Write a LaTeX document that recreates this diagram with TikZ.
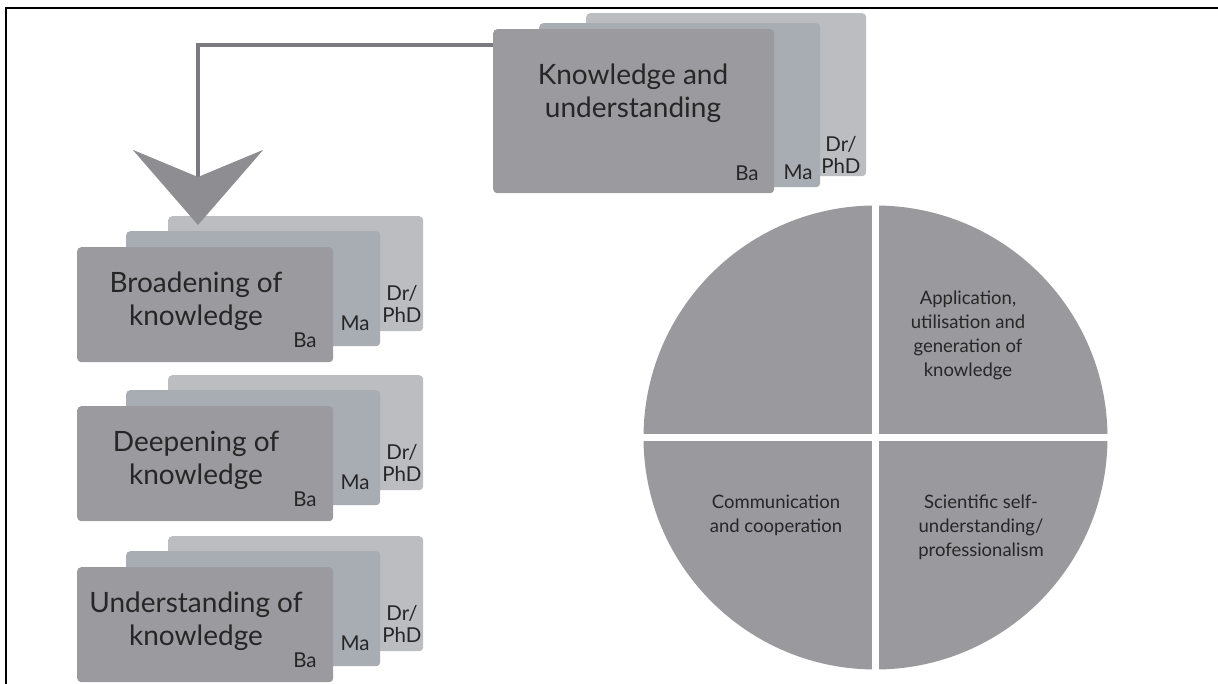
\documentclass[tikz,border=0pt]{standalone}
\usepackage{fontspec}
\setmainfont{Lato}
\usetikzlibrary{arrows.meta}
\definecolor{baC}{HTML}{9B9B9F}
\definecolor{maC}{HTML}{A8ACB3}
\definecolor{drC}{HTML}{BCBDC0}
\definecolor{txtC}{HTML}{262626}
\definecolor{lineC}{HTML}{7A7A80}
\definecolor{headC}{HTML}{8E8E92}
\definecolor{pieC}{HTML}{9A9A9E}
\tikzset{
  card/.style={rounded corners=4pt, inner sep=0pt, anchor=north west},
  bacard/.style={card, fill=baC},
  macard/.style={card, fill=maC},
  drcard/.style={card, fill=drC},
  lvl/.style={text=txtC, font=\fontsize{20.5}{22}\selectfont, align=center, inner sep=0pt},
  maintxt/.style={text=txtC, font=\fontsize{28}{33}\selectfont, align=center, inner sep=0pt},
  toptxt/.style={text=txtC, font=\fontsize{28}{33}\selectfont, align=center, inner sep=0pt},
  pietxt/.style={text=txtC, font=\fontsize{18.5}{24}\selectfont, align=center, inner sep=0pt},
  conn/.style={draw=lineC, line width=4.5pt, -{Stealth[length=75pt, width=130pt, inset=27pt, color=headC]}},
  frameline/.style={draw=black, line width=2.5pt},
}
\newcommand{\lstack}[3]{%
  \node[drcard, minimum width=255pt, minimum height=115pt] (#1Dr) at (168,{#2-31}) {};
  \node[macard, minimum width=254pt, minimum height=115pt] (#1Ma) at (126,{#2-16}) {};
  \node[bacard, minimum width=256pt, minimum height=115pt] (#1Ba) at (77,#2) {};
  \node[maintxt] (#1Txt) at (196,{#2+54}) {#3};
  \node[lvl] (#1BaL) at (305,{#2+93}) {Ba};
  \node[lvl] (#1MaL) at (355,{#2+76}) {Ma};
  \node[lvl] (#1DrL) at (402,{#2+57}) {Dr/\\PhD};
}
\begin{document}
\begin{tikzpicture}[x=1pt, y=-1pt]
\useasboundingbox (0,0) rectangle (1218,684);
\fill[white] (0,0) rectangle (1218,684);
\draw[frameline] (6,684) -- (6,8) -- (1218,8);
% top stack
\node[drcard, minimum width=280pt, minimum height=163pt] (kDr) at (586,13) {};
\node[macard, minimum width=281pt, minimum height=164pt] (kMa) at (539,23) {};
\node[bacard, minimum width=281pt, minimum height=164pt] (kBa) at (493,29) {};
\node[toptxt] (kTxt) at (633,93) {Knowledge and\\understanding};
\node[lvl] (kBaL) at (747,173) {Ba};
\node[lvl] (kMaL) at (798,172) {Ma};
\node[lvl] (kDrL) at (841,155) {Dr/\\PhD};
% left stacks
\lstack{b}{247}{Broadening of\\knowledge}
\lstack{d}{406}{Deepening of\\knowledge}
\lstack{u}{567}{Understanding of\\knowledge}
% connector
\coordinate (tip) at (198,225);
\draw[conn] ([yshift=-16pt]kBa.north west) -| (tip);
% pie
\node[circle, fill=pieC, minimum size=464pt, inner sep=0pt] (pie) at (875.5,437.5) {};
\draw[white, line width=7pt] ([yshift=5pt]pie.north) -- ([yshift=-5pt]pie.south);
\draw[white, line width=7pt] ([xshift=-5pt]pie.west) -- ([xshift=5pt]pie.east);
\node[pietxt] (pApp) at (968,335) {Application,\\utilisation and\\generation of\\knowledge};
\node[pietxt] (pCom) at (776,515) {Communication\\and cooperation};
\node[pietxt] (pSci) at (981,527) {Scientific self-\\understanding/\\professionalism};
\end{tikzpicture}
\end{document}
